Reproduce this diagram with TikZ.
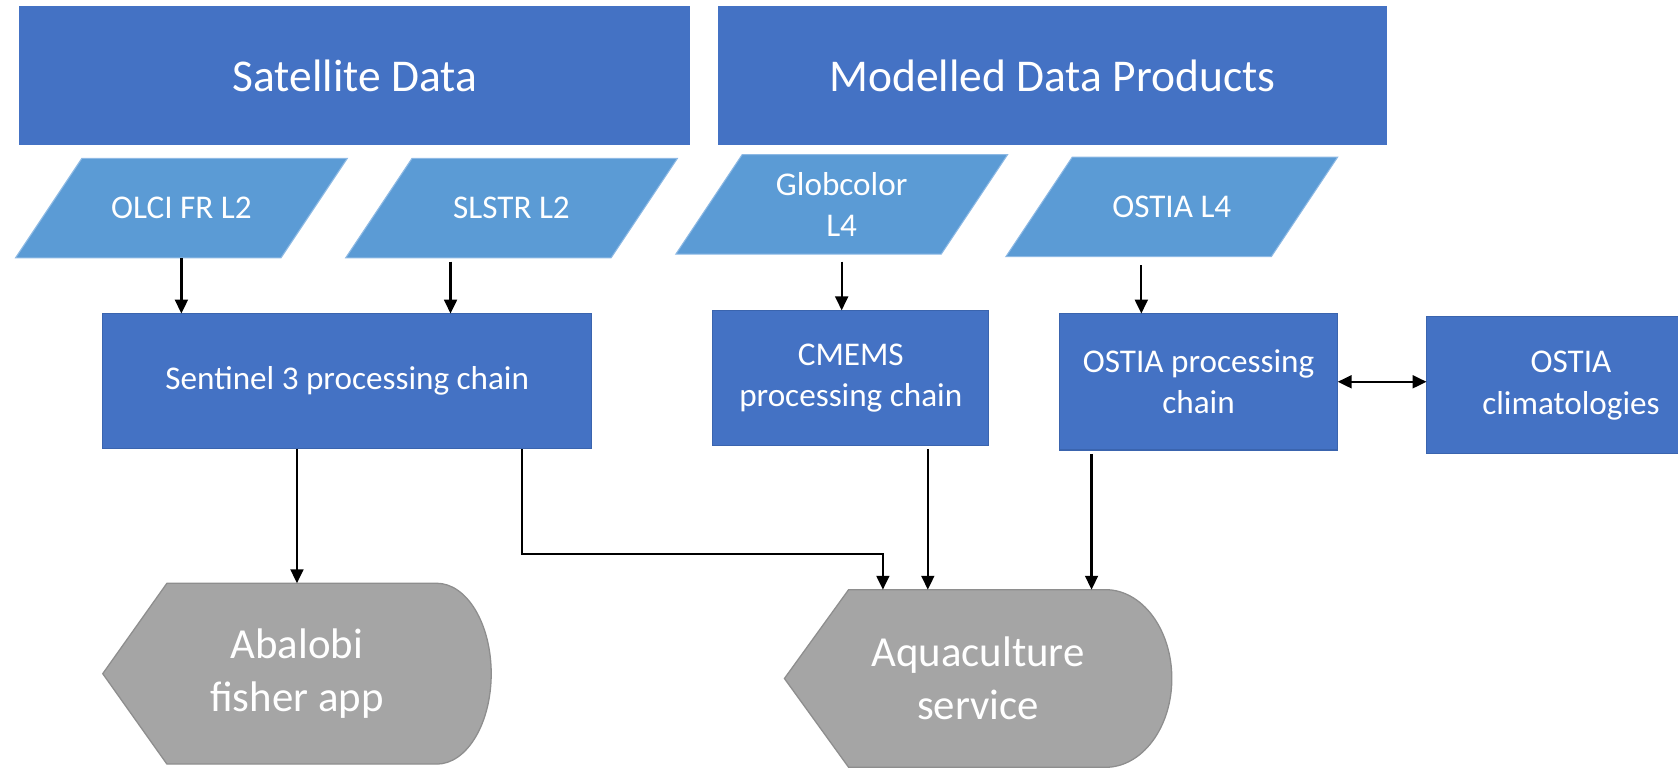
\documentclass[tikz,border=0pt]{standalone}
\usepackage{fontspec}
\setmainfont{Carlito}
\usetikzlibrary{arrows.meta,backgrounds}
\definecolor{hdr}{HTML}{4472C4}
\definecolor{rectedge}{HTML}{3A64AE}
\definecolor{pfill}{HTML}{5B9BD5}
\definecolor{pedge}{HTML}{8DB9E4}
\definecolor{gfill}{HTML}{A5A5A5}
\definecolor{gedge}{HTML}{8E8E8E}
\begin{document}
\begin{tikzpicture}[x=1pt,y=-1pt,
  header/.style={fill=hdr, inner sep=0pt, outer sep=0pt, minimum height=129.5pt, text=white, font=\fontsize{42.5}{51}\selectfont},
  procbox/.style={fill=hdr, draw=rectedge, line width=1pt, inner sep=0pt, outer sep=0pt, text=white, align=center, font=\fontsize{31}{39}\selectfont},
  databox/.style={inner sep=0pt, outer sep=0pt, minimum width=310pt, minimum height=93pt, text=white, align=center, font=\fontsize{31}{39}\selectfont},
  datashape/.style={fill=pfill, draw=pedge, line width=1pt},
  outbox/.style={inner sep=0pt, outer sep=0pt, text=white, align=center, font=\fontsize{40}{50}\selectfont},
  outshape/.style={fill=gfill, draw=gedge, line width=1.2pt},
  arr/.style={line width=2.1pt, -{Triangle[length=13pt,width=12pt]}},
  darr/.style={line width=2.1pt, {Triangle[length=13pt,width=12pt]}-{Triangle[length=13pt,width=12pt]}}]

\useasboundingbox (0,0) rectangle (1568,718.6);

% headers
\node[header, minimum width=627pt] (sat) at (331.5,70.75) {Satellite Data};
\node[header, minimum width=625pt] (mod) at (983.5,70.75) {Modelled Data Products};

% input data (parallelograms)
\node[databox] (olci)  at (169.5,194.5) {OLCI FR L2};
\node[databox] (slstr) at (478,194.5) {SLSTR L2};
\node[databox] (glob)  at (786.5,191) {Globcolor\\L4};
\node[databox] (ostl4) at (1095,193.25) {OSTIA L4};

% processing boxes
\node[procbox, minimum width=457pt, minimum height=126.5pt] (sentinel) at (324.5,356.25) {Sentinel 3 processing chain};
\node[procbox, minimum width=258pt, minimum height=126.5pt] (cmems) at (795,353.25) {CMEMS\\processing chain};
\node[procbox, minimum width=260pt, minimum height=127.5pt] (ostiap) at (1120,356.75) {OSTIA processing\\chain};
\node[procbox, minimum width=270pt, minimum height=128pt] (clim) at (1468,360) {OSTIA\\climatologies};

% outputs
\node[outbox, minimum width=363pt, minimum height=169pt] (abalobi) at (277.5,629.5) {Abalobi\\fisher app};
\node[outbox, minimum width=362pt, minimum height=166pt] (aqua) at (914,634) {Aquaculture\\service};

\begin{pgfonlayer}{background}
  \foreach \n in {olci,slstr,glob,ostl4}
    \path[datashape] (\n.south west) -- ([xshift=-62pt]\n.south east) -- (\n.north east) -- ([xshift=62pt]\n.north west) -- cycle;
  \path[outshape] (abalobi.west) -- ([xshift=60pt]abalobi.north west) -- ([xshift=-51pt]abalobi.north east)
     arc[start angle=90, end angle=-90, x radius=51pt, y radius=84.5pt] -- ([xshift=60pt]abalobi.south west) -- cycle;
  \path[outshape] (aqua.west) -- ([xshift=60pt]aqua.north west) -- ([xshift=-62pt]aqua.north east)
     arc[start angle=90, end angle=-90, x radius=62pt, y radius=83pt] -- ([xshift=60pt]aqua.south west) -- cycle;
\end{pgfonlayer}

% connectors
\draw[arr] (olci.south) -- (olci.south |- sentinel.north);
\coordinate (slx) at ([xshift=-57pt]slstr.south);
\draw[arr, shorten <=3.5pt] (slx) -- (slx |- sentinel.north);
\draw[arr, shorten <=7pt] (glob.south) -- (glob.south |- cmems.north);
\coordinate (o4x) at ([xshift=-28.5pt]ostl4.south);
\draw[arr, shorten <=8pt] (o4x) -- (o4x |- ostiap.north);
\draw[darr] (ostiap.east) -- (ostiap.east -| clim.west);

\draw[arr] (abalobi.north |- sentinel.south) -- (abalobi.north);
\coordinate (sx) at ([xshift=163.5pt]sentinel.south);
\coordinate (a1) at ([xshift=-89pt]aqua.north);
\draw[arr] (sx) |- ([yshift=33pt]a1) -- (a1);
\coordinate (a2) at ([xshift=-47pt]aqua.north);
\draw[arr, shorten <=3.5pt] (a2 |- cmems.south) -- (a2);
\coordinate (a3) at ([xshift=106pt]aqua.north);
\draw[arr, shorten <=3.5pt] (a3 |- ostiap.south) -- (a3);
\end{tikzpicture}
\end{document}
